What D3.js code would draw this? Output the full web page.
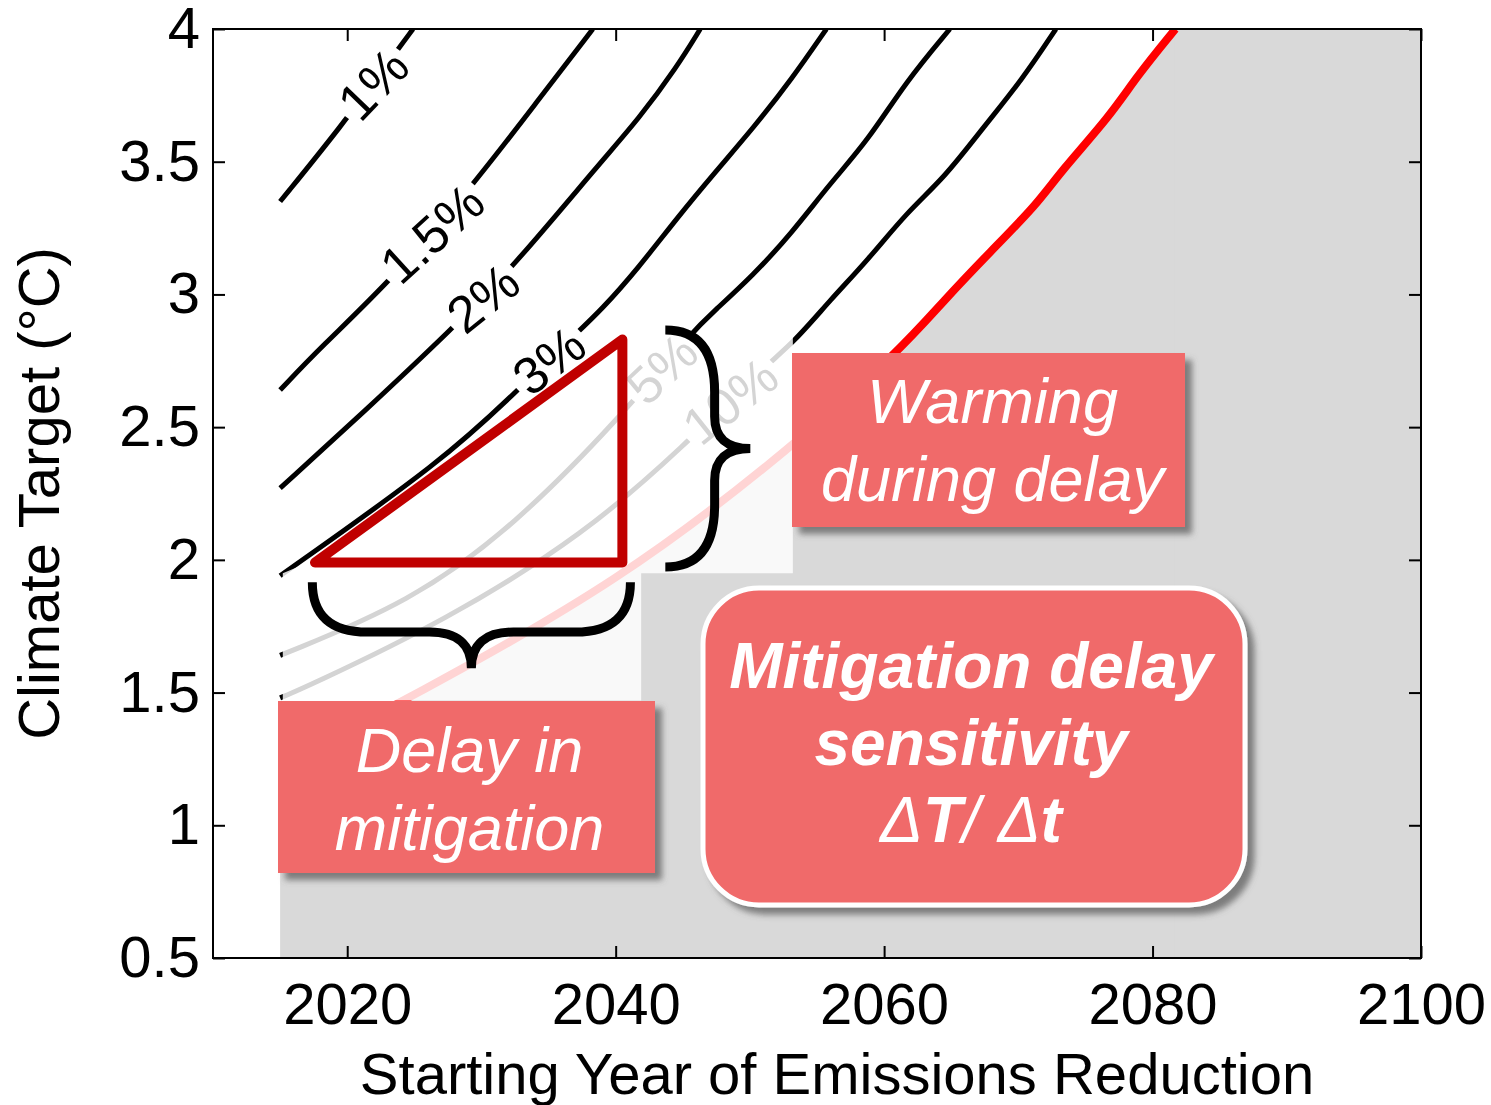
<!DOCTYPE html>
<html>
  <head>
    <meta charset="utf-8">
    <title>Mitigation delay sensitivity</title>
    <script src="https://d3js.org/d3.v7.min.js"></script>
    <style>
      body { margin: 0; background: #fff; }
      svg text { font-family: "Liberation Sans", Arial, sans-serif; }
    </style>
  </head>
  <body>
    <svg id="chart" width="1491" height="1105"></svg>
    <script>
      // contour lines: [start year, climate target]
      const rate1 = [[2015, 3.35], [2019.5, 3.63], [2023.3, 3.89], [2024.9, 4.0]];
      const rate15 = [[2015, 2.64], [2018.0, 2.80], [2023.2, 3.05], [2029.2, 3.40], [2034.2, 3.73], [2038.3, 4.0]];
      const rate2 = [[2015, 2.27], [2021.3, 2.56], [2027.8, 2.87], [2032.3, 3.10], [2038.9, 3.50], [2041.7, 3.66], [2044.6, 3.86], [2046.3, 4.0]];
      const rate3 = [[2015, 1.94], [2027.3, 2.38], [2032.5, 2.63], [2037.0, 2.85], [2038.9, 2.94], [2041.7, 3.10], [2044.6, 3.29], [2047.4, 3.46], [2050.3, 3.63], [2053.1, 3.81], [2055.7, 4.0]];
      const rate5 = [[2015, 1.64], [2024.7, 1.84], [2032.5, 2.13], [2040.4, 2.54], [2045.7, 2.86], [2047.4, 2.94], [2050.2, 3.07], [2053.1, 3.23], [2056.0, 3.42], [2058.8, 3.58], [2061.6, 3.80], [2064.9, 4.0]];
      const rate10 = [[2015, 1.48], [2016.9, 1.52], [2027.3, 1.77], [2037.8, 2.10], [2045.1, 2.43], [2050.9, 2.72], [2053.3, 2.82], [2056.0, 2.98], [2058.8, 3.13], [2061.7, 3.31], [2064.5, 3.44], [2067.4, 3.63], [2070.3, 3.81], [2072.8, 4.0]];
      const redLimit = [[2015, 1.23], [2024.7, 1.48], [2040.4, 1.92], [2053.3, 2.43], [2061.2, 2.79], [2064.5, 2.98], [2067.9, 3.16], [2071.4, 3.34], [2073.1, 3.46], [2076.8, 3.67], [2078.8, 3.82], [2081.7, 4.0]];

      const contours = [rate1, rate15, rate2, rate3, rate5, rate10];
      const contourLabels = ["1%", "1.5%", "2%", "3%", "5%", "10%"];
      const labelYears = [2021.9, 2026.3, 2030.1, 2035.0, 2043.4, 2048.5];

      const xTicks = [2020, 2040, 2060, 2080, 2100];
      const yTicks = [0.5, 1, 1.5, 2, 2.5, 3, 3.5, 4];

      // annotation geometry, in data units
      const fadeArea = [[2015.2, 1.95], [2017.6, 2.0], [2040.5, 2.84], [2053.2, 2.86], [2053.2, 1.95], [2041.9, 1.95], [2041.9, 1.47], [2015.2, 1.47]];
      const delayTriangle = [[2017.6, 1.99], [2040.5, 1.99], [2040.5, 2.83]];

      const svg = d3.select("#chart");
      const x = d3.scaleLinear().domain([2010, 2100]).range([213, 1421]);
      const y = d3.scaleLinear().domain([0.5, 4]).range([958, 29]);

      const defs = svg.append("defs");
      defs.append("clipPath").attr("id", "plotClip")
        .append("rect")
          .attr("x", x(2010)).attr("y", y(4))
          .attr("width", x(2100) - x(2010)).attr("height", y(0.5) - y(4));
      defs.append("filter").attr("id", "shadow")
          .attr("x", "-10%").attr("y", "-10%").attr("width", "130%").attr("height", "130%")
        .append("feDropShadow")
          .attr("dx", 7).attr("dy", 7).attr("stdDeviation", 3)
          .attr("flood-color", "#555").attr("flood-opacity", 0.7);
      const gaps = defs.append("mask").attr("id", "labelGaps")
        .attr("maskUnits", "userSpaceOnUse")
        .attr("x", 0).attr("y", 0).attr("width", 1491).attr("height", 1105);
      gaps.append("rect")
        .attr("width", 1491).attr("height", 1105).attr("fill", "#fff");

      const plot = svg.append("g").attr("clip-path", "url(#plotClip)");

      // infeasible region right of the red limit
      const area = d3.area()
        .x(d => x(d[0]))
        .y0(y(0.5))
        .y1(d => y(d[1]))
        .curve(d3.curveBasis);
      plot.append("path")
        .datum(redLimit)
        .attr("d", area)
        .attr("fill", "#d9d9d9");
      const lastRed = redLimit[redLimit.length - 1];
      plot.append("rect")
        .attr("x", x(lastRed[0]) - 0.5).attr("y", y(4))
        .attr("width", x(2100) - x(lastRed[0]) + 1).attr("height", y(0.5) - y(4))
        .attr("fill", "#d9d9d9");

      const line = d3.line()
        .x(d => x(d[0]))
        .y(d => y(d[1]))
        .curve(d3.curveBasis);

      plot.append("g")
          .attr("mask", "url(#labelGaps)")
        .selectAll(".contour")
          .data(contours)
        .enter().append("path")
          .attr("class", "contour")
          .attr("d", line)
          .attr("fill", "none")
          .attr("stroke", "#000")
          .attr("stroke-width", 5);

      plot.append("path")
        .datum(redLimit)
        .attr("d", line)
        .attr("fill", "none")
        .attr("stroke", "#ff0000")
        .attr("stroke-width", 8);

      // contour labels sit in a gap cut out of their line
      function tempAt(data, yr) {
        for (let i = 1; i < data.length; i++) {
          if (yr <= data[i][0]) {
            const a = data[i - 1], b = data[i];
            return a[1] + (b[1] - a[1]) * (yr - a[0]) / (b[0] - a[0]);
          }
        }
        return data[data.length - 1][1];
      }
      contours.forEach(function(data, i) {
        const yr = labelYears[i];
        const px = x(yr), py = y(tempAt(data, yr));
        const dx = x(yr + 2) - x(yr - 2);
        const dy = y(tempAt(data, yr + 2)) - y(tempAt(data, yr - 2));
        const lineAngle = Math.atan2(dy, dx) * 180 / Math.PI;
        const label = plot.append("text")
          .attr("transform", "translate(" + px + "," + py + ") rotate(" + lineAngle * 0.86 + ")")
          .attr("text-anchor", "middle")
          .attr("dy", "0.36em")
          .attr("font-size", 52)
          .attr("fill", "#000")
          .text(contourLabels[i]);
        const w = label.node().getComputedTextLength() + 10;
        gaps.append("rect")
          .attr("x", -w / 2).attr("y", -20)
          .attr("width", w).attr("height", 40)
          .attr("transform", "translate(" + px + "," + py + ") rotate(" + lineAngle + ")")
          .attr("fill", "#000");
      });

      // washed-out patch behind the triangle
      const plain = d3.line().x(d => x(d[0])).y(d => y(d[1]));
      plot.append("path")
        .datum(fadeArea)
        .attr("d", d => plain(d) + "Z")
        .attr("fill", "#fff")
        .attr("fill-opacity", 0.83);

      svg.append("path")
        .datum(delayTriangle)
        .attr("d", d => plain(d) + "Z")
        .attr("fill", "none")
        .attr("stroke", "#c00000")
        .attr("stroke-width", 10)
        .attr("stroke-linejoin", "round");

      // curly braces
      function braceRight(x0, y0, y1, w, r, r2) {
        const xs = x0 + w * 0.58, ym = (y0 + y1) / 2, xt = x0 + w;
        return "M" + x0 + "," + y0 + " Q" + xs + "," + y0 + " " + xs + "," + (y0 + r) +
          " L" + xs + "," + (ym - r2) + " Q" + xs + "," + ym + " " + xt + "," + ym +
          " Q" + xs + "," + ym + " " + xs + "," + (ym + r2) +
          " L" + xs + "," + (y1 - r) + " Q" + xs + "," + y1 + " " + x0 + "," + y1;
      }
      function braceDown(x0, x1, y0, h, r, r2) {
        const ys = y0 + h * 0.58, xm = (x0 + x1) / 2, yt = y0 + h;
        return "M" + x0 + "," + y0 + " Q" + x0 + "," + ys + " " + (x0 + r) + "," + ys +
          " L" + (xm - r2) + "," + ys + " Q" + xm + "," + ys + " " + xm + "," + yt +
          " Q" + xm + "," + ys + " " + (xm + r2) + "," + ys +
          " L" + (x1 - r) + "," + ys + " Q" + x1 + "," + ys + " " + x1 + "," + y0;
      }
      svg.append("path")
        .attr("d", braceRight(x(2043.7), y(2.866), y(1.973), 85, 62, 32))
        .attr("fill", "none").attr("stroke", "#000").attr("stroke-width", 9);
      svg.append("path")
        .attr("d", braceDown(x(2017.4), x(2041.1), y(1.916), 86, 55, 42))
        .attr("fill", "none").attr("stroke", "#000").attr("stroke-width", 9);

      // annotation boxes
      const boxFill = "#f06a6b";
      function textBox(bx, by, bw, bh, rx, lines, opts) {
        const g = svg.append("g");
        g.append("rect")
          .attr("x", bx).attr("y", by).attr("width", bw).attr("height", bh)
          .attr("rx", rx)
          .attr("fill", boxFill)
          .attr("stroke", opts.stroke || "none")
          .attr("stroke-width", opts.stroke ? 5 : 0)
          .attr("filter", "url(#shadow)");
        lines.forEach(function(l, i) {
          const t = g.append("text")
            .attr("x", bx + bw / 2 + opts.shift)
            .attr("y", opts.base + i * opts.step)
            .attr("text-anchor", "middle")
            .attr("font-size", opts.size)
            .attr("font-style", "italic")
            .attr("font-weight", opts.weight)
            .attr("fill", "#fff");
          if (Array.isArray(l)) {
            l.forEach(function(part) {
              t.append("tspan").attr("font-weight", part[1]).text(part[0]);
            });
          } else {
            t.text(l);
          }
        });
      }
      textBox(792, 353, 393, 174, 0, ["Warming", "during delay"],
        { base: 423, step: 78, size: 63, weight: "normal", shift: 4 });
      textBox(278, 701, 377, 172, 0, ["Delay in", "mitigation"],
        { base: 772, step: 78, size: 63, weight: "normal", shift: 3 });
      textBox(703, 588, 542, 317, 56,
        ["Mitigation delay", "sensitivity",
          [["\u0394", "normal"], ["T", "bold"], ["/ ", "normal"], ["\u0394", "normal"], ["t", "bold"]]],
        { base: 688, step: 77, size: 64, weight: "bold", shift: -3, stroke: "#fff" });

      // frame and inward ticks on all four sides
      svg.append("rect")
        .attr("x", x(2010)).attr("y", y(4))
        .attr("width", x(2100) - x(2010)).attr("height", y(0.5) - y(4))
        .attr("fill", "none").attr("stroke", "#000").attr("stroke-width", 2);

      function styleAxis(g, showText) {
        g.select(".domain").remove();
        g.selectAll(".tick line").attr("stroke", "#000").attr("stroke-width", 2);
        g.selectAll(".tick text")
          .attr("font-size", 58)
          .attr("fill", "#000")
          .style("font-family", "'Liberation Sans', Arial, sans-serif");
        if (!showText) g.selectAll(".tick text").remove();
      }
      svg.append("g")
        .attr("transform", "translate(0," + y(0.5) + ")")
        .call(d3.axisBottom(x).tickValues(xTicks).tickSize(-12).tickPadding(25).tickFormat(d3.format("d")))
        .call(styleAxis, true);
      svg.append("g")
        .attr("transform", "translate(0," + y(4) + ")")
        .call(d3.axisTop(x).tickValues(xTicks).tickSize(-12))
        .call(styleAxis, false);
      svg.append("g")
        .attr("transform", "translate(" + x(2010) + ",0)")
        .call(d3.axisLeft(y).tickValues(yTicks).tickSize(-12).tickPadding(13).tickFormat(d => String(d)))
        .call(styleAxis, true);
      svg.append("g")
        .attr("transform", "translate(" + x(2100) + ",0)")
        .call(d3.axisRight(y).tickValues(yTicks).tickSize(-12))
        .call(styleAxis, false);

      svg.append("text")
        .attr("x", 837).attr("y", 1094)
        .attr("text-anchor", "middle")
        .attr("font-size", 58)
        .text("Starting Year of Emissions Reduction");
      svg.append("text")
        .attr("transform", "translate(59," + ((y(4) + y(0.5)) / 2) + ") rotate(-90)")
        .attr("text-anchor", "middle")
        .attr("font-size", 58)
        .text("Climate Target (\u00b0C)");
    </script>
  </body>
</html>
